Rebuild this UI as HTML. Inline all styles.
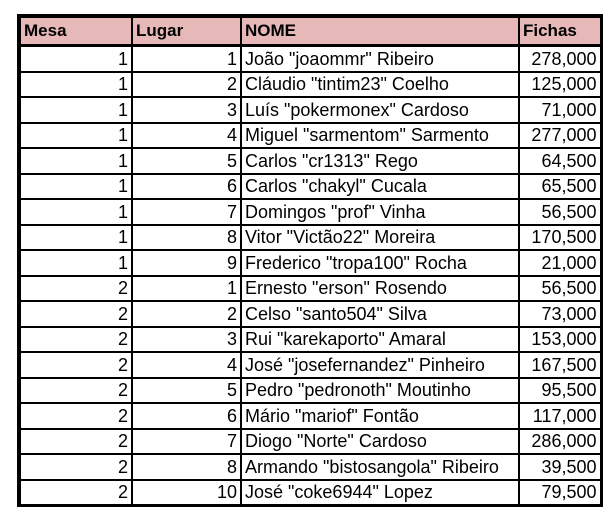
<!DOCTYPE html>
<html><head><style>
body{margin:0;background:#fff;width:612px;height:520px;overflow:hidden}
table{position:absolute;left:17px;top:14px;border-collapse:collapse;table-layout:fixed;font-family:"Liberation Sans",sans-serif;font-size:18px;color:#000;border:4px solid #000;border-bottom-width:3px;border-right-width:3px}
td{border:2px solid #000;height:23.5px;padding:0 3px;line-height:22px;white-space:nowrap;overflow:hidden}
th{background:#e6b8b7;border:2px solid #000;border-bottom:3px solid #000;text-align:left;font-weight:bold;height:26px;padding:0 3px;line-height:24px;font-size:17px}
td.n{text-align:right}
col.a{width:113px}col.b{width:109px}col.c{width:278px}col.d{width:82px}
</style></head><body>
<table>
<colgroup><col class="a"><col class="b"><col class="c"><col class="d"></colgroup>
<tr><th>Mesa</th><th>Lugar</th><th>NOME</th><th>Fichas</th></tr>
<tr><td class="n">1</td><td class="n">1</td><td>João "joaommr" Ribeiro</td><td class="n">278,000</td></tr>
<tr><td class="n">1</td><td class="n">2</td><td>Cláudio "tintim23" Coelho</td><td class="n">125,000</td></tr>
<tr><td class="n">1</td><td class="n">3</td><td>Luís "pokermonex" Cardoso</td><td class="n">71,000</td></tr>
<tr><td class="n">1</td><td class="n">4</td><td>Miguel "sarmentom" Sarmento</td><td class="n">277,000</td></tr>
<tr><td class="n">1</td><td class="n">5</td><td>Carlos "cr1313" Rego</td><td class="n">64,500</td></tr>
<tr><td class="n">1</td><td class="n">6</td><td>Carlos "chakyl" Cucala</td><td class="n">65,500</td></tr>
<tr><td class="n">1</td><td class="n">7</td><td>Domingos "prof" Vinha</td><td class="n">56,500</td></tr>
<tr><td class="n">1</td><td class="n">8</td><td>Vitor "Victão22" Moreira</td><td class="n">170,500</td></tr>
<tr><td class="n">1</td><td class="n">9</td><td>Frederico "tropa100" Rocha</td><td class="n">21,000</td></tr>
<tr><td class="n">2</td><td class="n">1</td><td>Ernesto "erson" Rosendo</td><td class="n">56,500</td></tr>
<tr><td class="n">2</td><td class="n">2</td><td>Celso "santo504" Silva</td><td class="n">73,000</td></tr>
<tr><td class="n">2</td><td class="n">3</td><td>Rui "karekaporto" Amaral</td><td class="n">153,000</td></tr>
<tr><td class="n">2</td><td class="n">4</td><td>José "josefernandez" Pinheiro</td><td class="n">167,500</td></tr>
<tr><td class="n">2</td><td class="n">5</td><td>Pedro "pedronoth" Moutinho</td><td class="n">95,500</td></tr>
<tr><td class="n">2</td><td class="n">6</td><td>Mário "mariof" Fontão</td><td class="n">117,000</td></tr>
<tr><td class="n">2</td><td class="n">7</td><td>Diogo "Norte" Cardoso</td><td class="n">286,000</td></tr>
<tr><td class="n">2</td><td class="n">8</td><td>Armando "bistosangola" Ribeiro</td><td class="n">39,500</td></tr>
<tr><td class="n">2</td><td class="n">10</td><td>José "coke6944" Lopez</td><td class="n">79,500</td></tr>
</table>
</body></html>
